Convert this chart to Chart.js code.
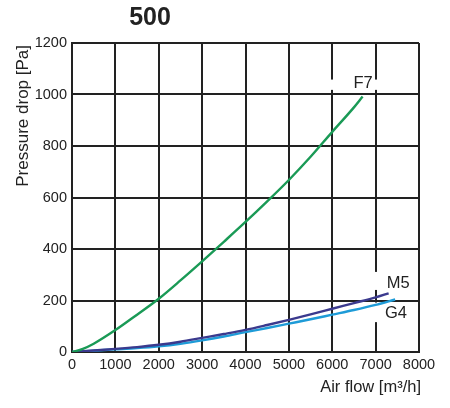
<!DOCTYPE html>
<html><head><meta charset="utf-8">
<script src="https://cdn.jsdelivr.net/npm/chart.js@4.4.0/dist/chart.umd.min.js"></script>
<style>html,body{margin:0;padding:0;background:#fff}</style>
</head><body>
<canvas id="c" width="450" height="408"></canvas>
<script>
const chartTitle = '500';
const xTitle = 'Air flow [m\u00B3/h]';
const yTitle = 'Pressure drop [Pa]';
const xTickValues = [0,1000,2000,3000,4000,5000,6000,7000,8000];
const yTickValues = [0,200,400,600,800,1000,1200];

const flowF7 = [0,250,500,1000,1500,2000,2500,3000,3500,4000,4500,5000,5500,6000,6500,6700];
const dropF7 = [0,12,32,85,145,207,278,352,428,505,585,668,758,855,950,992];

const flowM5 = [0,500,1000,1500,2000,2500,3000,3500,4000,4500,5000,5500,6000,6500,7000,7300];
const dropM5 = [0,6,12,19,28,40,55,70,86,105,125,146,168,190,212,228];

const flowG4 = [0,500,1000,1500,2000,2500,3000,3500,4000,4500,5000,5500,6000,6500,7000,7450];
const dropG4 = [0,5,10,15,22,32,45,60,77,93,110,127,145,163,183,204];

const seriesNames = ['F7','M5','G4'];
const seriesColors = ['#1a9a56','#3b3a8e','#1e9bd7'];

function pts(xs, ys){ return xs.map((x,i)=>({x:x,y:ys[i]})); }

const FONT = '"Liberation Sans", Arial, sans-serif';
const TXT = '#222';

const labelPlugin = {
  id: 'labels',
  beforeDatasetsDraw(chart){
    const {ctx, scales:{x,y}} = chart;
    const boxes = [
      [5950, 7050, 1058, 1018],
      [6900, 7880, 311, 241],
      [6900, 7880, 192, 116]
    ];
    ctx.save();
    ctx.fillStyle = '#fff';
    boxes.forEach(b=>{
      const x1 = x.getPixelForValue(b[0]), x2 = x.getPixelForValue(b[1]);
      const y1 = y.getPixelForValue(b[2]), y2 = y.getPixelForValue(b[3]);
      ctx.fillRect(x1, y1, x2-x1, y2-y1);
    });
    ctx.restore();
  },
  afterDatasetsDraw(chart){
    const {ctx, scales:{x,y}} = chart;
    const pos = [[6710,1041],[7520,266],[7470,148]];
    ctx.save();
    ctx.fillStyle = TXT;
    ctx.font = '16.5px ' + FONT;
    ctx.textAlign = 'center';
    ctx.textBaseline = 'middle';
    seriesNames.forEach((n,i)=>{
      ctx.fillText(n, x.getPixelForValue(pos[i][0]), y.getPixelForValue(pos[i][1]));
    });
    ctx.restore();
  },
  afterDraw(chart){
    const {ctx, chartArea} = chart;
    ctx.save();
    ctx.fillStyle = TXT;
    ctx.font = 'bold 25px ' + FONT;
    ctx.textAlign = 'center';
    ctx.textBaseline = 'middle';
    ctx.fillText(chartTitle, chartArea.left + 78, 18);
    ctx.font = '16.5px ' + FONT;
    ctx.textAlign = 'right';
    ctx.fillText(xTitle, chartArea.right + 2, 387);
    ctx.translate(23, chartArea.top + 2);
    ctx.rotate(-Math.PI/2);
    ctx.textAlign = 'right';
    ctx.font = '17px ' + FONT;
    ctx.fillText(yTitle, 0, 0);
    ctx.restore();
  }
};

new Chart(document.getElementById('c'), {
  type: 'line',
  data: {
    datasets: seriesNames.map((n,i)=>({
      label: n,
      data: pts([flowF7,flowM5,flowG4][i],[dropF7,dropM5,dropG4][i]),
      borderColor: seriesColors[i],
      borderWidth: 2.4,
      pointRadius: 0,
      fill: false,
      cubicInterpolationMode: 'monotone'
    }))
  },
  options: {
    responsive: false,
    animation: false,
    layout: {padding: {top: 43, right: 31, left: 0, bottom: 0}},
    plugins: {legend: {display: false}, tooltip: {enabled: false}, title: {display: false}},
    scales: {
      x: {
        type: 'linear', min: 0, max: 8000,
        afterBuildTicks(s){ s.ticks = xTickValues.map(v=>({value:v})); },
        afterFit(s){ s.height = 56; },
        grid: {color: '#222', lineWidth: 2, drawTicks: false},
        border: {color: '#222', width: 2},
        ticks: {color: TXT, font: {family: FONT, size: 14.5}, padding: 4, maxRotation: 0, autoSkip: false,
                callback: v => String(v)}
      },
      y: {
        type: 'linear', min: 0, max: 1200,
        afterBuildTicks(s){ s.ticks = yTickValues.map(v=>({value:v})); },
        afterFit(s){ s.width = 72; },
        grid: {color: '#222', lineWidth: 2, drawTicks: false},
        border: {color: '#222', width: 2},
        ticks: {color: TXT, font: {family: FONT, size: 14.5}, padding: 5,
                callback: v => String(v)}
      }
    }
  },
  plugins: [labelPlugin]
});
</script>
</body></html>
